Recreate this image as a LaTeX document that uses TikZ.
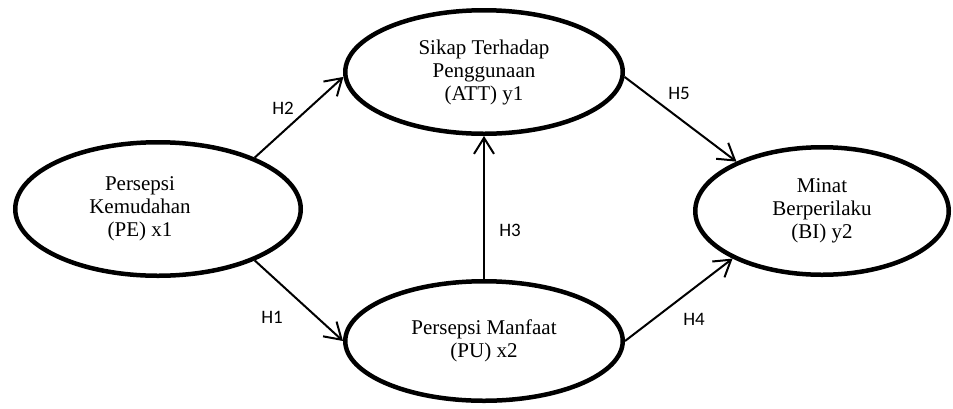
\documentclass[tikz,border=0pt]{standalone}
\usepackage{fontspec}
\setmainfont{Liberation Serif}
\newfontfamily\hfont{Carlito}
\usetikzlibrary{arrows.meta,shapes.geometric}
\begin{document}
\begin{tikzpicture}[x=1pt,y=-1pt,
  lat/.style={draw, ellipse, line width=4.5pt, inner sep=0pt, align=center},
  txt/.style={align=center, inner sep=0pt, font=\fontsize{21}{23}\selectfont},
  arr/.style={line width=2pt, -{Straight Barb[length=16pt,width=20pt,line width=2pt]}},
  hl/.style={font=\hfont\fontsize{19}{22}\selectfont, inner sep=0pt}]
\useasboundingbox (0,0) rectangle (953,408);
\node[lat, minimum width=285.5pt, minimum height=133.5pt] (PE) at (158,209) {};
\node[txt] (PEt) at (140,209) {Persepsi\\Kemudahan\\(PE) x1};
\node[lat, txt, minimum width=277.5pt, minimum height=123.5pt] (ATT) at (484,72) {Sikap Terhadap\\Penggunaan\\(ATT) y1};
\node[lat, txt, minimum width=277.5pt, minimum height=119.5pt] (PU) at (484,341) {Persepsi Manfaat\\(PU) x2};
\node[lat, txt, minimum width=253.5pt, minimum height=127.5pt] (BI) at (822,211) {Minat\\Berperilaku\\(BI) y2};
\draw[arr] (PE.28) -- (ATT.182);
\draw[arr] (PE.-28) -- (PU.180);
\draw[arr] (PU.90) -- (ATT.270);
\draw[arr] (ATT.-2) -- (BI.150);
\draw[arr] (PU.0) -- (BI.208);
\node[hl] (h2) at (283,108) {H2};
\node[hl] (h1) at (272,317) {H1};
\node[hl] (h3) at (510,230) {H3};
\node[hl] (h5) at (679,93) {H5};
\node[hl] (h4) at (694,319) {H4};
\end{tikzpicture}
\end{document}
